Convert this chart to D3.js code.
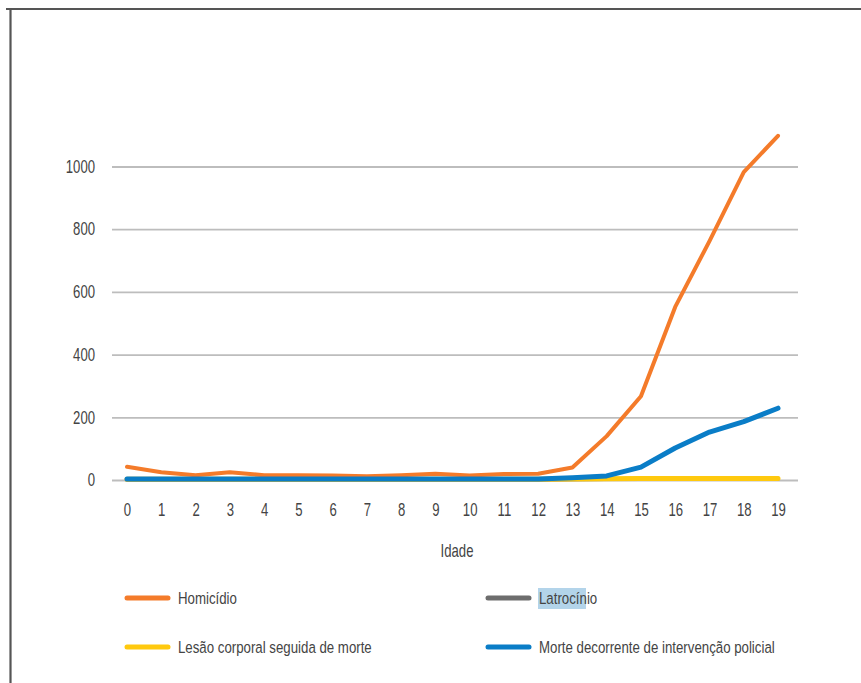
<!DOCTYPE html>
<html>
<head>
<meta charset="utf-8">
<script src="https://cdn.jsdelivr.net/npm/d3@7"></script>
<style>
  html, body { margin: 0; padding: 0; background: #fff; }
  svg text { font-family: "Liberation Sans", Arial, sans-serif; fill: #444; }
</style>
</head>
<body>
<svg id="chart" width="861" height="683"></svg>
<script>
// Idade (anos)
const ages = [0,1,2,3,4,5,6,7,8,9,10,11,12,13,14,15,16,17,18,19];
const yTicks = [0,200,400,600,800,1000];

// Número de mortes por idade, por tipo
const homicidio = [42,25,15,25,15,15,14,12,15,20,14,19,20,40,140,267,552,762,982,1098];
const latrocinio = [1,1,1,1,1,1,1,1,1,1,1,1,1,2,3,4,4,5,5,5];
const lesaoCorporal = [2,2,2,2,2,2,2,2,2,2,2,2,2,3,4,5,5,5,5,5];
const intervencaoPolicial = [3,3,3,3,3,3,3,3,3,3,3,3,3,7,13,41,102,153,186,229];

const seriesNames = ["Homicídio","Latrocínio","Lesão corporal seguida de morte","Morte decorrente de intervenção policial"];
const seriesColors = ["#f47b2a","#6d6d6d","#ffc90e","#0a7dc7"];

// ordem de desenho: as de baixo primeiro
const series = [
  { name: seriesNames[1], values: latrocinio, color: seriesColors[1], width: 4 },
  { name: seriesNames[2], values: lesaoCorporal, color: seriesColors[2], width: 5 },
  { name: seriesNames[0], values: homicidio, color: seriesColors[0], width: 4 },
  { name: seriesNames[3], values: intervencaoPolicial, color: seriesColors[3], width: 5 }
];

const NARROW = 0.73;      // compressão horizontal do texto dos eixos
const NARROW_LEG = 0.78;  // compressão horizontal do texto da legenda

const svg = d3.select("#chart");

// moldura
svg.append("line").attr("x1", 6).attr("x2", 861).attr("y1", 9).attr("y2", 9)
  .attr("stroke", "#555").attr("stroke-width", 2.2);
svg.append("line").attr("x1", 10.5).attr("x2", 10.5).attr("y1", 8).attr("y2", 683)
  .attr("stroke", "#555").attr("stroke-width", 2.2);

const x = d3.scalePoint().domain(ages).range([127, 778]);
const y = d3.scaleLinear().domain([0, 1000]).range([480, 166.5]);

// grade horizontal
const yAxis = svg.append("g").attr("transform", "translate(112,0)")
  .call(d3.axisLeft(y).tickValues(yTicks).tickSize(-686).tickFormat(d3.format("d")));
yAxis.select(".domain").remove();
yAxis.selectAll(".tick line").attr("stroke", "#bdbdbd").attr("stroke-width", 1.8);
yAxis.selectAll(".tick text")
  .attr("font-size", 18).attr("fill", "#444")
  .attr("x", 0).attr("text-anchor", "end")
  .attr("transform", `translate(-17,0) scale(${NARROW},1)`);

// eixo x
const xAxis = svg.append("g").attr("transform", "translate(0,480)")
  .call(d3.axisBottom(x).tickSize(0).tickPadding(23));
xAxis.select(".domain").remove();
xAxis.selectAll(".tick text")
  .attr("font-size", 18).attr("fill", "#444")
  .attr("transform", `scale(${NARROW},1)`);

svg.append("text")
  .attr("transform", `translate(457,557) scale(${NARROW},1)`)
  .attr("text-anchor", "middle")
  .attr("font-size", 18).text("Idade");

// linhas
const line = d3.line().x((d, i) => x(ages[i])).y(d => y(d));
series.forEach(s => {
  svg.append("path").datum(s.values)
    .attr("d", line)
    .attr("fill", "none")
    .attr("stroke", s.color)
    .attr("stroke-width", s.width)
    .attr("stroke-linejoin", "round")
    .attr("stroke-linecap", "round");
});

// legenda
const legendItems = [
  { name: seriesNames[0], color: seriesColors[0], lx: 127, ly: 598 },
  { name: seriesNames[1], color: seriesColors[1], lx: 488, ly: 598 },
  { name: seriesNames[2], color: seriesColors[2], lx: 127, ly: 647 },
  { name: seriesNames[3], color: seriesColors[3], lx: 488, ly: 647 }
];
const lg = svg.append("g");
// realce sobre "Latrocín"
lg.append("rect").attr("x", 538).attr("y", 588).attr("width", 48).attr("height", 21)
  .attr("fill", "#b3d4ea");
legendItems.forEach(it => {
  lg.append("line").attr("x1", it.lx).attr("x2", it.lx + 41)
    .attr("y1", it.ly).attr("y2", it.ly)
    .attr("stroke", it.color).attr("stroke-width", 5).attr("stroke-linecap", "round");
  lg.append("text")
    .attr("transform", `translate(${it.lx + 51},${it.ly + 6}) scale(${NARROW_LEG},1)`)
    .attr("font-size", 17).text(it.name);
});
</script>
</body>
</html>
